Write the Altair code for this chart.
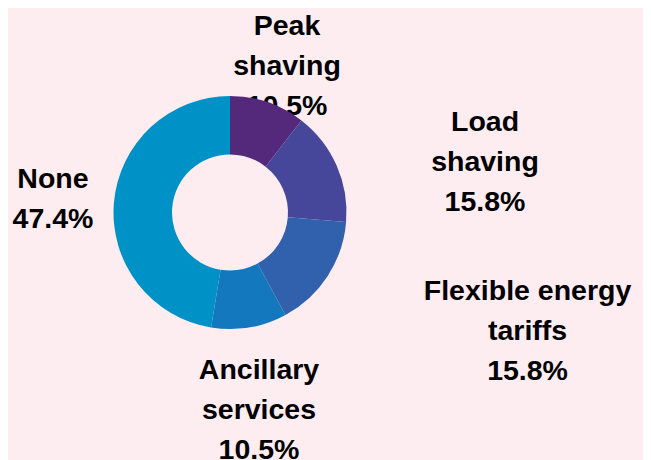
import altair as alt
import pandas as pd

# ---- data ----
categories = ["Peak shaving", "Load shaving", "Flexible energy tariffs",
              "Ancillary services", "None"]
values = [10.5, 15.8, 15.8, 10.5, 47.4]
wrapped_names = ["Peak\nshaving", "Load\nshaving", "Flexible energy\ntariffs",
                 "Ancillary\nservices", "None"]
colors = ["#54287a", "#46469a", "#3160ac", "#1478be", "#0091c6"]

# ---- label layout (distance of first text line from centre in px,
#      angular nudge from the slice middle in degrees) ----
label_radius = [186.4, 267.7, 310.0, 169.0, 178.7]
label_nudge_deg = [-1.1, 6.04, -16.82, -0.34, 3.2]

BG = "#fdedf1"
total = sum(values)

df = pd.DataFrame({
    "category": categories,
    "value": values,
    "idx": list(range(len(categories))),
})
df["label"] = [f"{n}\n{v:.1f}%" for n, v in zip(wrapped_names, values)]
cum = df["value"].cumsum()
df["label_theta"] = (cum - df["value"] / 2) + pd.Series(label_nudge_deg) * total / 360.0
df["label_r"] = label_radius

base = alt.Chart(df)

labels = base.mark_text(
    font="Liberation Sans", fontSize=28.5, fontWeight="bold", color="#000000",
    align="center", baseline="alphabetic", lineBreak="\n", lineHeight=40,
).encode(
    theta=alt.Theta("label_theta:Q", stack=False),
    radius=alt.Radius("label_r:Q", scale=None),
    text="label:N",
)

arcs = base.mark_arc(outerRadius=116.5, innerRadius=58).encode(
    theta=alt.Theta("value:Q", stack=True),
    order=alt.Order("idx:Q"),
    color=alt.Color("category:N",
                    scale=alt.Scale(domain=categories, range=colors),
                    legend=None),
)

chart = alt.layer(labels, arcs).properties(
    width=444, height=409,
    padding={"left": 0, "top": 0, "right": 191, "bottom": 43},
    autosize=alt.AutoSizeParams(type="none"),
    background=BG,
).configure_view(strokeWidth=0)

chart.save("out.html", embed_options={"renderer": "svg", "actions": False})
